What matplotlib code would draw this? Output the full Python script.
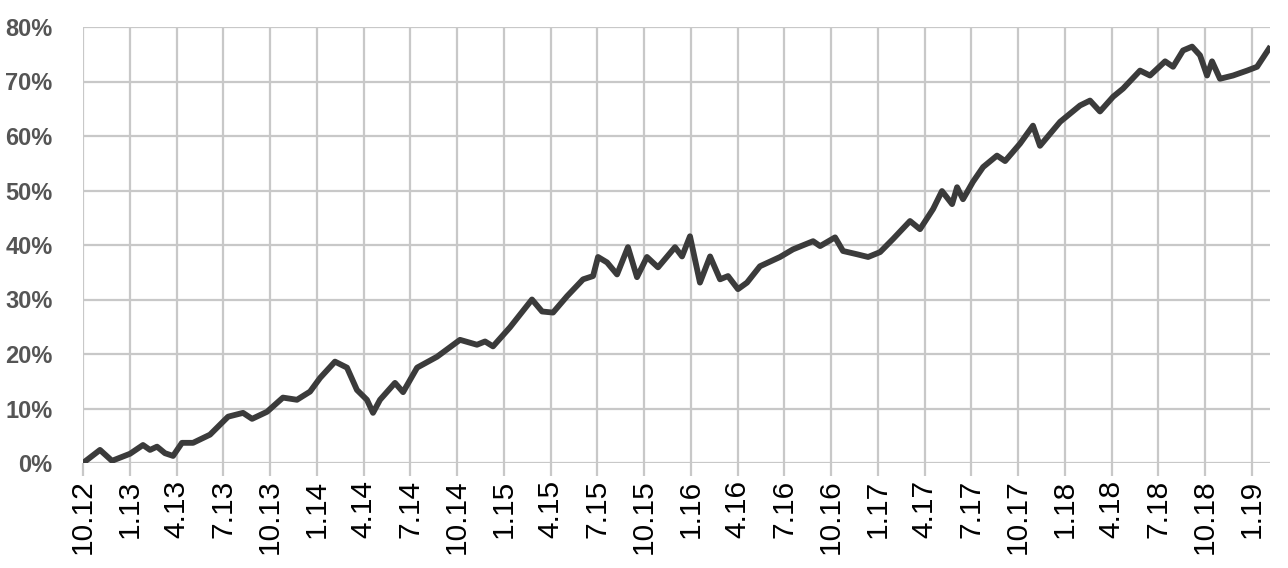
import matplotlib
matplotlib.use('Agg')
import matplotlib.pyplot as plt

# meses desde oct-2012 y rendimiento acumulado (%)
meses = [0, 1.09, 1.86, 3.02, 3.85, 4.30, 4.75, 5.26, 5.78, 6.35, 7.06, 8.15,
         9.31, 10.27, 10.85, 11.81, 12.83, 13.73, 14.57, 15.21, 16.17, 16.94,
         17.58, 18.22, 18.61, 19.06, 20.02, 20.54, 21.44, 22.72, 24.19, 25.28,
         25.80, 26.31, 27.40, 28.81, 29.46, 30.16, 31.06, 32.09, 32.73, 33.05,
         33.63, 34.27, 34.97, 35.55, 36.19, 36.90, 37.99, 38.44, 38.95, 39.59,
         40.24, 40.88, 41.39, 42.03, 42.61, 43.44, 44.73, 45.56, 46.85, 47.30,
         48.26, 48.77, 49.67, 50.38, 51.15, 51.98, 53.07, 53.71, 54.55, 55.12,
         55.77, 56.09, 56.47, 57.11, 57.76, 58.65, 59.17, 60.13, 60.96, 61.41,
         62.70, 63.98, 64.62, 65.26, 66.10, 66.74, 67.83, 68.47, 69.44, 69.95,
         70.59, 71.17, 71.68, 72.13, 72.45, 72.96, 73.80, 74.70, 75.34, 76.10]
rend = [0, 2.4, 0.4, 1.7, 3.3, 2.4, 3.0, 1.8, 1.3, 3.7, 3.7, 5.2,
        8.5, 9.2, 8.1, 9.4, 12.0, 11.6, 13.1, 15.6, 18.6, 17.5,
        13.4, 11.6, 9.2, 11.6, 14.7, 13.0, 17.5, 19.5, 22.6, 21.7,
        22.3, 21.4, 24.9, 30.0, 27.8, 27.6, 30.6, 33.7, 34.3, 37.8,
        36.8, 34.6, 39.6, 34.1, 37.8, 35.9, 39.6, 37.9, 41.6, 33.1,
        37.9, 33.7, 34.3, 31.9, 33.1, 36.1, 37.8, 39.2, 40.7, 39.8,
        41.4, 38.9, 38.3, 37.8, 38.7, 41.1, 44.4, 42.9, 46.6, 49.9,
        47.5, 50.6, 48.4, 51.6, 54.3, 56.4, 55.4, 58.6, 61.9, 58.2,
        62.6, 65.6, 66.5, 64.5, 67.2, 68.7, 72.0, 71.1, 73.7, 72.7,
        75.7, 76.4, 74.8, 71.1, 73.7, 70.5, 71.1, 72.0, 72.7, 76.0]

etiquetas = ['10.12', '1.13', '4.13', '7.13', '10.13', '1.14', '4.14', '7.14',
             '10.14', '1.15', '4.15', '7.15', '10.15', '1.16', '4.16', '7.16',
             '10.16', '1.17', '4.17', '7.17', '10.17', '1.18', '4.18', '7.18',
             '10.18', '1.19']
yticks = [0, 10, 20, 30, 40, 50, 60, 70, 80]

fig = plt.figure(figsize=(12.88, 5.68), dpi=100)
ax = fig.add_axes([83/1288, 1 - 463/568, (1270 - 83)/1288, (463 - 27)/568])

ax.plot(meses, rend, color='#3b3b3b', lw=4.2, solid_joinstyle='round')

ax.set_xlim(0, 76.17)
ax.set_ylim(0, 80)
ax.set_xticks(range(0, 76, 3))
ax.set_xticklabels(etiquetas, rotation=90, fontsize=21.5, family='Liberation Sans')
ax.set_yticks(yticks)
ax.set_yticklabels([f'{v}%' for v in yticks], fontsize=17, fontweight='bold',
                   color='#555555', family='Liberation Sans')
ax.grid(True, color='#c8c8c8', lw=1.6)
ax.set_axisbelow(True)
for s in ax.spines.values():
    s.set_visible(False)
ax.tick_params(axis='x', length=9, width=1.6, color='#c8c8c8', pad=3)
ax.tick_params(axis='y', length=0, pad=22)

fig.savefig('out.png', dpi=100)
